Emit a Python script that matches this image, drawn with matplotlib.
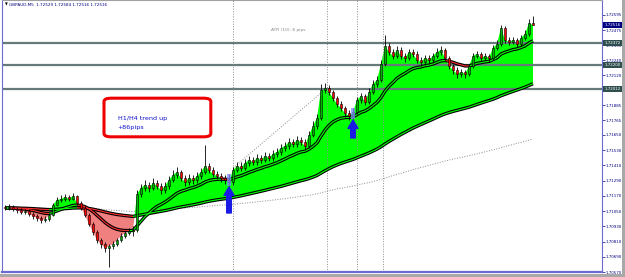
import matplotlib
matplotlib.use("Agg")
import matplotlib.pyplot as plt
import numpy as np
import pandas as pd
from matplotlib.patches import Rectangle, FancyBboxPatch
from matplotlib.collections import LineCollection
from matplotlib import font_manager
import matplotlib.transforms as mtransforms

# ===== data (GBPAUD M5) =====
first_open = 1.71082
closes = [
    1.71074, 1.71082, 1.71066, 1.71058, 1.71042, 1.71050, 1.71027, 1.71011, 1.70995, 1.70979,
    1.70987, 1.71019, 1.71098, 1.71137, 1.71145, 1.71161, 1.71145, 1.71169, 1.71113, 1.71074,
    1.71019, 1.70948, 1.70885, 1.70822, 1.70790, 1.70759, 1.70775, 1.70790, 1.70822, 1.70853,
    1.70877, 1.70893, 1.70901, 1.71184, 1.71232, 1.71255, 1.71232, 1.71271, 1.71247, 1.71216,
    1.71247, 1.71295, 1.71334, 1.71358, 1.71310, 1.71279, 1.71310, 1.71295, 1.71326, 1.71358,
    1.71405, 1.71373, 1.71342, 1.71326, 1.71310, 1.71295, 1.71279, 1.71373, 1.71405, 1.71389,
    1.71429, 1.71452, 1.71436, 1.71468, 1.71452, 1.71484, 1.71468, 1.71500, 1.71515, 1.71547,
    1.71563, 1.71594, 1.71578, 1.71610, 1.71594, 1.71563, 1.71649, 1.71720, 1.71783, 1.72004,
    1.72020, 1.71988, 1.71941, 1.71894, 1.71862, 1.71823, 1.71799, 1.71830, 1.71925, 1.71957,
    1.71909, 1.71988, 1.72051, 1.72083, 1.72209, 1.72351, 1.72303, 1.72272, 1.72319, 1.72272,
    1.72256, 1.72303, 1.72288, 1.72240, 1.72224, 1.72256, 1.72240, 1.72272, 1.72303, 1.72319,
    1.72256, 1.72193, 1.72161, 1.72130, 1.72146, 1.72130, 1.72193, 1.72272, 1.72288, 1.72256,
    1.72272, 1.72256, 1.72335, 1.72366, 1.72492, 1.72398, 1.72382, 1.72398, 1.72366, 1.72414,
    1.72445, 1.72529, 1.72516,
]
highs = [
    1.71098, 1.71106, 1.71098, 1.71082, 1.71074, 1.71066, 1.71066, 1.71042, 1.71027, 1.71011,
    1.71011, 1.71035, 1.71113, 1.71161, 1.71177, 1.71184, 1.71177, 1.71192, 1.71177, 1.71129,
    1.71090, 1.71035, 1.70964, 1.70901, 1.70838, 1.70806, 1.70790, 1.70814, 1.70838, 1.70877,
    1.70901, 1.70916, 1.70932, 1.71216, 1.71263, 1.71295, 1.71279, 1.71310, 1.71295, 1.71271,
    1.71279, 1.71326, 1.71373, 1.71397, 1.71373, 1.71334, 1.71342, 1.71334, 1.71358, 1.71389,
    1.71570, 1.71429, 1.71397, 1.71366, 1.71350, 1.71334, 1.71342, 1.71397, 1.71436, 1.71436,
    1.71460, 1.71484, 1.71476, 1.71500, 1.71492, 1.71515, 1.71507, 1.71531, 1.71547, 1.71578,
    1.71594, 1.71626, 1.71618, 1.71641, 1.71633, 1.71618, 1.71681, 1.71760, 1.71815, 1.72051,
    1.72059, 1.72043, 1.72004, 1.71957, 1.71917, 1.71878, 1.71846, 1.71862, 1.71949, 1.71980,
    1.71972, 1.72020, 1.72083, 1.72114, 1.72240, 1.72437, 1.72374, 1.72327, 1.72351, 1.72343,
    1.72295, 1.72327, 1.72327, 1.72311, 1.72264, 1.72280, 1.72280, 1.72295, 1.72335, 1.72351,
    1.72335, 1.72272, 1.72209, 1.72185, 1.72169, 1.72161, 1.72209, 1.72295, 1.72311, 1.72303,
    1.72295, 1.72288, 1.72358, 1.72398, 1.72516, 1.72508, 1.72421, 1.72421, 1.72414, 1.72437,
    1.72477, 1.72560, 1.72584,
]
lows = [
    1.71058, 1.71058, 1.71050, 1.71035, 1.71027, 1.71027, 1.71011, 1.70987, 1.70972, 1.70956,
    1.70964, 1.70972, 1.71011, 1.71090, 1.71121, 1.71129, 1.71129, 1.71137, 1.71098, 1.71058,
    1.71003, 1.70932, 1.70861, 1.70798, 1.70759, 1.70727, 1.70609, 1.70751, 1.70775, 1.70806,
    1.70838, 1.70861, 1.70853, 1.70885, 1.71161, 1.71208, 1.71200, 1.71216, 1.71224, 1.71184,
    1.71192, 1.71224, 1.71279, 1.71310, 1.71287, 1.71247, 1.71255, 1.71263, 1.71271, 1.71302,
    1.71342, 1.71350, 1.71318, 1.71302, 1.71279, 1.71263, 1.71247, 1.71255, 1.71358, 1.71366,
    1.71373, 1.71405, 1.71413, 1.71413, 1.71429, 1.71436, 1.71444, 1.71444, 1.71476, 1.71492,
    1.71523, 1.71539, 1.71555, 1.71555, 1.71570, 1.71531, 1.71547, 1.71633, 1.71697, 1.71767,
    1.71980, 1.71964, 1.71917, 1.71870, 1.71838, 1.71791, 1.71767, 1.71775, 1.71815, 1.71901,
    1.71886, 1.71894, 1.71972, 1.72027, 1.72067, 1.72193, 1.72280, 1.72248, 1.72256, 1.72248,
    1.72224, 1.72240, 1.72264, 1.72217, 1.72193, 1.72201, 1.72209, 1.72217, 1.72256, 1.72280,
    1.72232, 1.72169, 1.72130, 1.72098, 1.72106, 1.72098, 1.72114, 1.72177, 1.72256, 1.72232,
    1.72240, 1.72224, 1.72240, 1.72319, 1.72351, 1.72374, 1.72358, 1.72366, 1.72343, 1.72351,
    1.72398, 1.72429, 1.72516,
]
fast_period, slow_period, long_period = 15, 72, 200

price_ticks = ["1.72595", "1.72475", "1.72355", "1.72240", "1.72120", "1.72005",
               "1.71885", "1.71765", "1.71650", "1.71530", "1.71410", "1.71290",
               "1.71170", "1.71050", "1.70930", "1.70810", "1.70690", "1.70570"]
level_prices = [1.72372, 1.72200, 1.72012]
bid_price = 1.72516
separator_bars = [57, 80.5, 88, 94.5]
trend_start = (57, 1.71389)
trend_end = (79, 1.71980)
signal_bars = [56, 87]
arrow_tail = [1.71035, 1.71626]
arrow_tip = [1.71240, 1.71767]
title_text = "GBPAUD,M5  1.72529 1.72584 1.72516 1.72516"
note_lines = ["H1/H4 trend up", "+86pips"]
atr_text = "ATR (10): 8 pips"

# ===== derived =====
n = len(closes)
idx = np.arange(n)
opens = [first_open] + closes[:-1]
cs = pd.Series(closes)
fast = cs.ewm(span=fast_period, adjust=False).mean().values
slow = cs.ewm(span=slow_period, adjust=False).mean().values
longma = cs.ewm(span=long_period, adjust=False).mean().values
c = np.array(closes)

names = {f.name for f in font_manager.fontManager.ttflist}
narrow = "Liberation Sans Narrow" if "Liberation Sans Narrow" in names else "DejaVu Sans"
lab_size = 3.3 if narrow != "DejaVu Sans" else 2.9

fig = plt.figure(figsize=(6.25, 2.77), dpi=100, facecolor="white")
ax = fig.add_axes([2 / 625, 5 / 277, 600 / 625, 272 / 277])
ax.set_xlim(-0.75, 149.25)
ax.set_ylim(1.70570, 1.72713)

# window frame
fig.patches.append(Rectangle((622 / 625, 0), 3 / 625, 1, transform=fig.transFigure,
                             facecolor="#a8a8a8", edgecolor="none"))
fig.patches.append(Rectangle((0, 0), 1, 3 / 277, transform=fig.transFigure,
                             facecolor="#a8a8a8", edgecolor="none"))

# fill between close and slow MA
ax.fill_between(idx, c, slow, where=c >= slow, interpolate=True, color="#00ff00", lw=0, zorder=1)
ax.fill_between(idx, c, slow, where=c < slow, interpolate=True, color="#f08080", lw=0, zorder=1)

# horizontal levels
for lv in level_prices:
    ax.axhline(lv, color="#667a7a", lw=1.6, zorder=2)

# separators, trendline, long MA
dot = dict(color="#8c8c8c", lw=0.7, ls=(0, (1, 1.6)), zorder=2)
for sb in separator_bars:
    ax.axvline(sb, **dot)
ax.plot([trend_start[0], trend_end[0]], [trend_start[1], trend_end[1]], **dot)
ax.plot(idx, longma, **dot)

# MA tubes
def tube(vals):
    ax.plot(idx, vals, color="black", lw=2.4, zorder=3, solid_capstyle="butt")
    pts = np.column_stack([idx, vals]).reshape(-1, 1, 2)
    segs = np.concatenate([pts[:-1], pts[1:]], axis=1)
    cols = ["#00ff00" if vals[k + 1] >= vals[k] else "#ff3030" for k in range(n - 1)]
    ax.add_collection(LineCollection(segs, colors=cols, linewidths=0.8, zorder=3.1))

tube(slow)
tube(fast)

# signal highlights
for sb in signal_bars:
    ax.add_patch(Rectangle((sb - 0.55, lows[sb]), 1.1, highs[sb] - lows[sb],
                           facecolor="#7f8cff", edgecolor="none", alpha=0.75, zorder=5))

# candles
for i in range(n):
    o, cl = opens[i], closes[i]
    ax.vlines(i, lows[i], highs[i], color="black", lw=0.6, zorder=4)
    lo, hi = min(o, cl), max(o, cl)
    h = max(hi - lo, 0.00003)
    fc = "#00b000" if cl >= o else "#ff0000"
    ax.add_patch(Rectangle((i - 0.36, lo), 0.72, h, facecolor=fc,
                           edgecolor="black", lw=0.4, zorder=4.2))

# arrows
for sb, t0, t1 in zip(signal_bars, arrow_tail, arrow_tip):
    ax.annotate("", xy=(sb, t1), xytext=(sb, t0),
                arrowprops=dict(arrowstyle="simple,head_width=1.2,head_length=1.0,tail_width=0.55",
                                color="#1a1ae6", mutation_scale=6, shrinkA=0, shrinkB=0),
                zorder=6)

# note box
ax.add_patch(FancyBboxPatch((0.170, 0.497), 0.178, 0.142, transform=ax.transAxes,
                            boxstyle="round,pad=0,rounding_size=0.012",
                            facecolor="white", edgecolor="#ee0000", lw=2.2, zorder=7))
ax.text(0.193, 0.566, note_lines[0], transform=ax.transAxes, color="#1010d0",
        fontsize=4.6, va="center", ha="left", zorder=8)
ax.text(0.193, 0.533, note_lines[1], transform=ax.transAxes, color="#1010d0",
        fontsize=4.6, va="center", ha="left", zorder=8)

# texts
ax.text(0.005, 0.982, "\u25bc", transform=ax.transAxes, fontsize=2.6, color="black",
        va="center", ha="left")
ax.text(0.011, 0.982, title_text, transform=ax.transAxes, fontsize=3.0, color="#000080",
        va="center", ha="left", family=narrow)
ax.text(0.477, 0.89, atr_text, transform=ax.transAxes, fontsize=3.2, color="#8a8a8a",
        va="center", ha="center", family=narrow)

# axes styling
ax.set_xticks([])
ax.yaxis.tick_right()
ax.set_yticks([float(t) for t in price_ticks])
ax.set_yticklabels(price_ticks, family=narrow)
ax.tick_params(axis="y", length=2, width=0.5, color="#000080", labelsize=lab_size,
               labelcolor="#000080", pad=0.8)
for s in ["left", "right", "bottom"]:
    ax.spines[s].set_color("#6a6ad0")
ax.spines["bottom"].set_linewidth(1.6)
ax.spines["right"].set_linewidth(0.8)
ax.spines["left"].set_linewidth(0.8)
ax.spines["top"].set_color("#a0a0a0")

blend = mtransforms.blended_transform_factory(ax.transAxes, ax.transData)
for lv in level_prices:
    ax.text(1.004, lv, f"{lv:.5f}", transform=blend, fontsize=lab_size, color="white",
            family=narrow, va="center", ha="left", clip_on=False, zorder=10,
            bbox=dict(boxstyle="square,pad=0.25", fc="#2f4f4f", ec="none"))
ax.text(1.004, bid_price, f"{bid_price:.5f}", transform=blend, fontsize=lab_size, color="white",
        family=narrow, va="center", ha="left", clip_on=False, zorder=10,
        bbox=dict(boxstyle="square,pad=0.25", fc="#000080", ec="none"))

fig.savefig("out.png", dpi=100, facecolor="white")
